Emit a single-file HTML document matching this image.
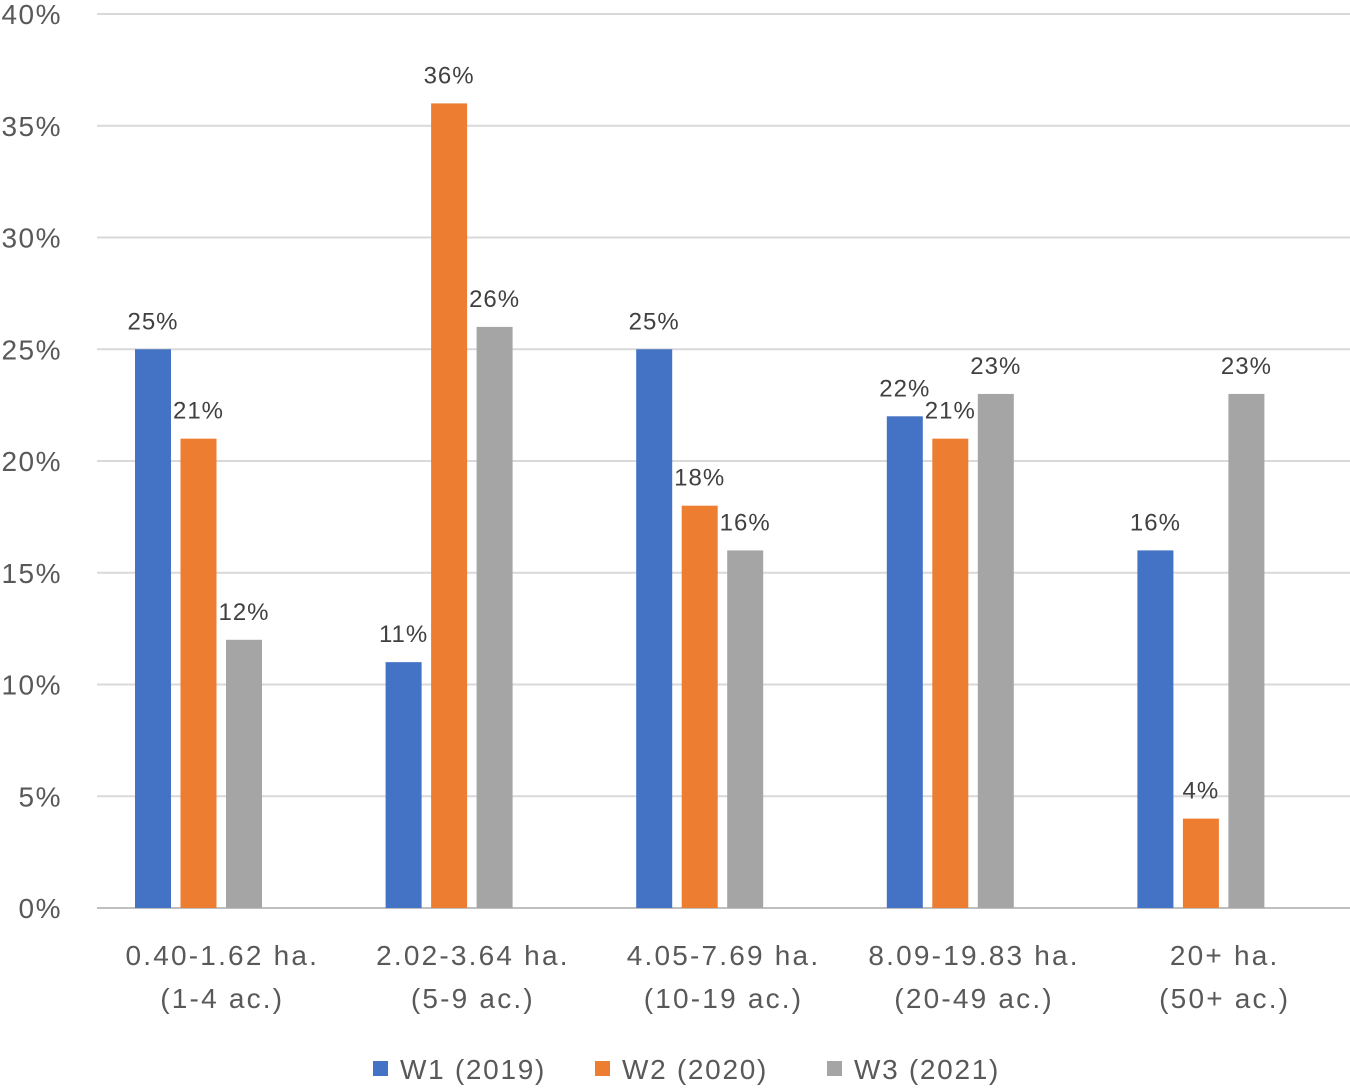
<!DOCTYPE html>
<html><head><meta charset="utf-8">
<style>
html,body{margin:0;padding:0;background:#fff;}
body{width:1350px;height:1086px;overflow:hidden;font-family:"Liberation Sans",sans-serif;}
</style></head>
<body>
<svg id="chart" width="1350" height="1086" xmlns="http://www.w3.org/2000/svg"></svg>
<script>
const categories = [["0.40-1.62 ha.","(1-4 ac.)"],["2.02-3.64 ha.","(5-9 ac.)"],["4.05-7.69 ha.","(10-19 ac.)"],["8.09-19.83 ha.","(20-49 ac.)"],["20+ ha.","(50+ ac.)"]];
const seriesNames = ["W1 (2019)","W2 (2020)","W3 (2021)"];
const w1 = [25,11,25,22,16];
const w2 = [21,36,18,21,4];
const w3 = [12,26,16,23,23];
const yTicks = [0,5,10,15,20,25,30,35,40];
const colors = ["#4472C4","#ED7D31","#A5A5A5"];
const series = [w1,w2,w3];

const svg = document.getElementById('chart');
const NS = "http://www.w3.org/2000/svg";
const x0 = 97, x1 = 1350, yZero = 908, yTop = 14, yMax = 40;
const catW = (x1 - x0) / categories.length;
const y = v => yZero - (v / yMax) * (yZero - yTop);
const barX = (ci, si) => x0 + ci * catW + 38 + si * 45.5;
const barW = 36;
function mk(tag, attrs, text){
  const e = document.createElementNS(NS, tag);
  for (const k in attrs) e.setAttribute(k, attrs[k]);
  if (text !== undefined) e.textContent = text;
  svg.appendChild(e);
  return e;
}
yTicks.forEach(t => {
  const g = mk('line', {x1:x0, x2:x1, y1:y(t), y2:y(t), stroke: t===0 ? '#BFBFBF' : '#D9D9D9', 'stroke-width':2});
  
  
  const l = mk('text', {x:62, y:y(t)+10, 'text-anchor':'end', 'font-size':28, 'letter-spacing':1.5, fill:'#595959'}, t + '%');
  
  
});
series.forEach((vals, si) => {
  vals.forEach((v, ci) => {
    const r = mk('rect', {x:barX(ci,si), y:y(v), width:barW, height:yZero - y(v), fill:colors[si]});
    
    
    const t = mk('text', {x:barX(ci,si)+barW/2, y:y(v)-20, 'text-anchor':'middle', 'font-size':24, 'letter-spacing':1, fill:'#404040'}, v + '%');
    
    
  });
});
categories.forEach((c, ci) => {
  const cx = x0 + ci * catW + catW/2;
  c.forEach((line, li) => {
    const t = mk('text', {x:cx, y:965 + li*43, 'text-anchor':'middle', 'font-size':28, 'letter-spacing':2.2, fill:'#595959'}, line);
    
    
  });
});
const legX = [373, 595, 827];
seriesNames.forEach((n, si) => {
  const r = mk('rect', {x:legX[si], y:1061, width:15, height:15, fill:colors[si]});
  
  
  const t = mk('text', {x:legX[si]+27, y:1079, 'font-size':28, 'letter-spacing':1.7, fill:'#595959'}, n);
  
  
});
</script>
</body></html>
